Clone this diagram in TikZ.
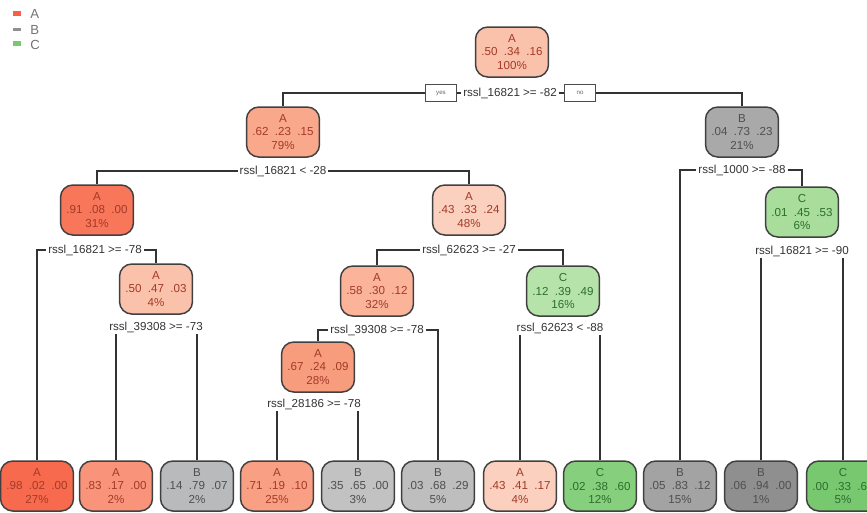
\documentclass[tikz,border=0pt]{standalone}
\usepackage{fontspec}
\setmainfont{Liberation Sans}
\usepackage{tikz}

% class shades
\definecolor{colA98}{HTML}{F76A4D}
\definecolor{colA91}{HTML}{F8765A}
\definecolor{colA83}{HTML}{F9937A}
\definecolor{colA71}{HTML}{F9A084}
\definecolor{colA67}{HTML}{F89C7E}
\definecolor{colA62}{HTML}{F9A88C}
\definecolor{colA58}{HTML}{FBB39A}
\definecolor{colA50}{HTML}{FBC2AB}
\definecolor{colA43}{HTML}{FCD0BE}
\definecolor{colB94}{HTML}{8F8F8F}
\definecolor{colB83}{HTML}{A3A3A3}
\definecolor{colB79}{HTML}{B8BABC}
\definecolor{colB73}{HTML}{A9A9A9}
\definecolor{colB68}{HTML}{BEBEBE}
\definecolor{colB65}{HTML}{C2C2C2}
\definecolor{colC67}{HTML}{78C870}
\definecolor{colC60}{HTML}{86CF7C}
\definecolor{colC53}{HTML}{A8DD9C}
\definecolor{colC49}{HTML}{B6E3AA}
\definecolor{txtA}{HTML}{A33A28}
\definecolor{txtB}{HTML}{4F4F4F}
\definecolor{txtC}{HTML}{2D6E2D}

\tikzset{
  treenode/.style={draw=black!75, line width=0.85pt, rounded corners=7pt,
    minimum width=1.46cm, minimum height=1cm, inner sep=0pt, align=center,
    font=\fontsize{6.6}{7.9}\selectfont},
  nodeA/.style={treenode, text=txtA},
  nodeB/.style={treenode, text=txtB},
  nodeC/.style={treenode, text=txtC},
  splitlab/.style={inner sep=1pt, text=black!80, font=\fontsize{6.6}{8}\selectfont},
  yesno/.style={draw=black!70, fill=white, line width=0.5pt, minimum width=0.62cm,
    minimum height=0.34cm, inner sep=0pt, text=black!60, font=\fontsize{3.5}{4}\selectfont},
  branch/.style={line width=0.8pt, black!80},
  legkey/.style={minimum width=0.16cm, minimum height=0.1cm, inner sep=0pt},
  leglab/.style={text=black!55, inner sep=0pt, font=\fontsize{7.5}{8}\selectfont},
}

\begin{document}
\begin{tikzpicture}[x=0.02cm,y=-0.02cm]
 \useasboundingbox (0,0) rectangle (867,512);
 \clip (0,0) rectangle (867,512);

 % legend
 \node[legkey, fill=colA98!90!red] (keyA) at (17,13) {};
 \node[legkey, fill=colB94, minimum height=0.06cm] (keyB) at (17,29) {};
 \node[legkey, fill=colC67] (keyC) at (17,43) {};
 \node[leglab, anchor=west] (labA) at (30,14) {A};
 \node[leglab, anchor=west] (labB) at (30,30) {B};
 \node[leglab, anchor=west] (labC) at (30,45) {C};

 % internal nodes
 \node[nodeA, fill=colA50] (n1) at (512,52) {A\\.50 \ .34 \ .16\\100\%};
 \node[nodeA, fill=colA62] (n2) at (283,132) {A\\.62 \ .23 \ .15\\79\%};
 \node[nodeB, fill=colB73] (n3) at (742,132) {B\\.04 \ .73 \ .23\\21\%};
 \node[nodeA, fill=colA91] (n4) at (97,210) {A\\.91 \ .08 \ .00\\31\%};
 \node[nodeA, fill=colA43] (n5) at (469,210) {A\\.43 \ .33 \ .24\\48\%};
 \node[nodeC, fill=colC53] (n7) at (802,212) {C\\.01 \ .45 \ .53\\6\%};
 \node[nodeA, fill=colA50] (n6) at (156,289) {A\\.50 \ .47 \ .03\\4\%};
 \node[nodeA, fill=colA58] (n8) at (377,291) {A\\.58 \ .30 \ .12\\32\%};
 \node[nodeC, fill=colC49] (n9) at (563,291) {C\\.12 \ .39 \ .49\\16\%};
 \node[nodeA, fill=colA67] (n10) at (318,367) {A\\.67 \ .24 \ .09\\28\%};

 % leaves
 \node[nodeA, fill=colA98] (l1) at (37,486) {A\\.98 \ .02 \ .00\\27\%};
 \node[nodeA, fill=colA83] (l2) at (116,486) {A\\.83 \ .17 \ .00\\2\%};
 \node[nodeB, fill=colB79] (l3) at (197,486) {B\\.14 \ .79 \ .07\\2\%};
 \node[nodeA, fill=colA71] (l4) at (277,486) {A\\.71 \ .19 \ .10\\25\%};
 \node[nodeB, fill=colB65] (l5) at (358,486) {B\\.35 \ .65 \ .00\\3\%};
 \node[nodeB, fill=colB68] (l6) at (438,486) {B\\.03 \ .68 \ .29\\5\%};
 \node[nodeA, fill=colA43] (l7) at (520,486) {A\\.43 \ .41 \ .17\\4\%};
 \node[nodeC, fill=colC60] (l8) at (600,486) {C\\.02 \ .38 \ .60\\12\%};
 \node[nodeB, fill=colB83] (l9) at (680,486) {B\\.05 \ .83 \ .12\\15\%};
 \node[nodeB, fill=colB94] (l10) at (761,486) {B\\.06 \ .94 \ .00\\1\%};
 \node[nodeC, fill=colC67] (l11) at (843,486) {C\\.00 \ .33 \ .67\\5\%};

 % split labels
 \node[splitlab] (s1) at (510,93) {rssl\_16821 >= -82};
 \node[yesno] (yes) at (441,93) {yes};
 \node[yesno] (no) at (580,93) {no};
 \node[splitlab] (s2) at (283,171) {rssl\_16821 < -28};
 \node[splitlab] (s3) at (742,170) {rssl\_1000 >= -88};
 \node[splitlab] (s4) at (95,250) {rssl\_16821 >= -78};
 \node[splitlab] (s5) at (469,250) {rssl\_62623 >= -27};
 \node[splitlab] (s7) at (802,251) {rssl\_16821 >= -90};
 \node[splitlab] (s6) at (156,327) {rssl\_39308 >= -73};
 \node[splitlab] (s8) at (377,330) {rssl\_39308 >= -78};
 \node[splitlab] (s9) at (560,328) {rssl\_62623 < -88};
 \node[splitlab] (s10) at (314,404) {rssl\_28186 >= -78};

 % branches
 \draw[branch] (n2.north) |- (yes.west);
 \draw[branch] (yes.east) -- (s1.west);
 \draw[branch] (s1.east) -- (no.west);
 \draw[branch] (no.east) -| (n3.north);
 \draw[branch] (n4.north) |- (s2.west);
 \draw[branch] (s2.east) -| (n5.north);
 \draw[branch] (l9.north) |- (s3.west);
 \draw[branch] (s3.east) -| (n7.north);
 \draw[branch] (l1.north) |- (s4.west);
 \draw[branch] (s4.east) -| (n6.north);
 \draw[branch] (n8.north) |- (s5.west);
 \draw[branch] (s5.east) -| (n9.north);
 \draw[branch] (n10.north) |- (s8.west);
 \draw[branch] (s8.east) -| (l6.north);
 \draw[branch] (l2.north) -- (l2.north |- s6.south);
 \draw[branch] (l3.north) -- (l3.north |- s6.south);
 \draw[branch] (l4.north) -- (l4.north |- s10.south);
 \draw[branch] (l5.north) -- (l5.north |- s10.south);
 \draw[branch] (l7.north) -- (l7.north |- s9.south);
 \draw[branch] (l8.north) -- (l8.north |- s9.south);
 \draw[branch] (l10.north) -- (l10.north |- s7.south);
 \draw[branch] (l11.north) -- (l11.north |- s7.south);
\end{tikzpicture}
\end{document}
